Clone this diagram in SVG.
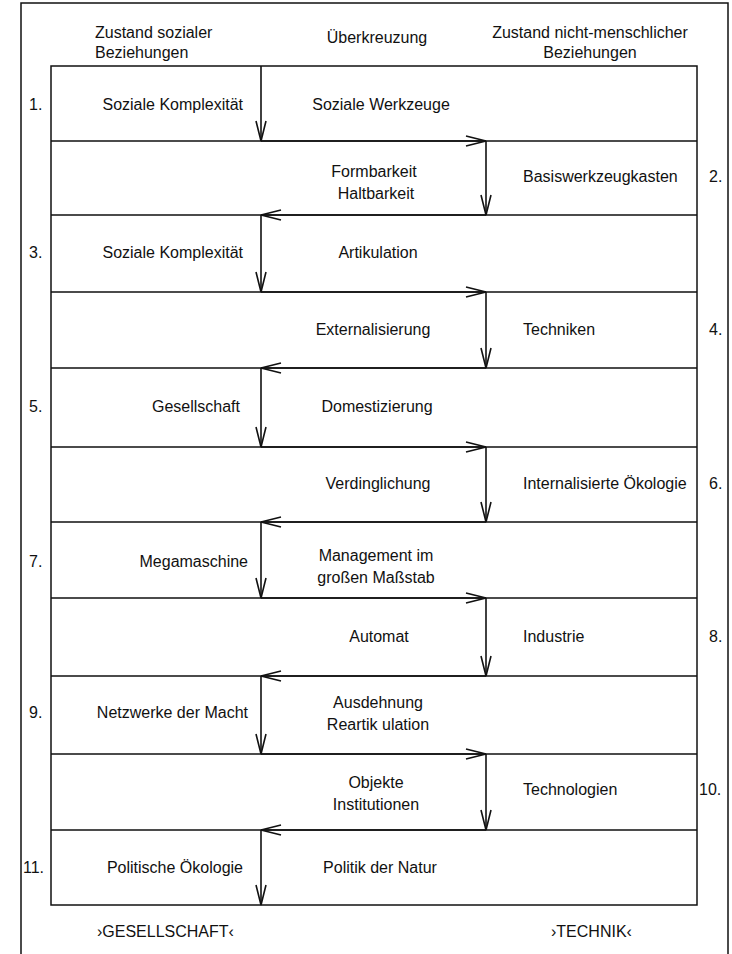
<svg xmlns="http://www.w3.org/2000/svg" width="732" height="954" viewBox="0 0 732 954">
<style>
text{font-family:"Liberation Sans",Arial,sans-serif;font-size:16px;fill:#111}
.m{text-anchor:middle}
.e{text-anchor:end}
.frame{fill:none;stroke:#111;stroke-width:1.5}
.row{stroke:#111;stroke-width:1.6}
.c{fill:none;stroke:#111;stroke-width:1.6;marker-end:url(#ah)}
</style>
<defs>
<marker id="ah" viewBox="0 0 22 12" refX="21" refY="6" markerWidth="22" markerHeight="12" markerUnits="userSpaceOnUse" orient="auto">
<path d="M1 1 L21 6 L1 11" fill="none" stroke="#111" stroke-width="1.6"/>
</marker>
</defs>
<rect width="732" height="954" fill="#fff"/>
<path class="frame" d="M21 954 V3 H728 V954"/>
<g id="grid">
<rect class="frame" x="51" y="66" width="646" height="839"/>
<path class="row" d="M51 141H697M51 215H697M51 292H697M51 368H697M51 447H697M51 522H697M51 598H697M51 676H697M51 754H697M51 830H697"/>
</g>
<g id="header">
<text x="95" y="38">Zustand sozialer</text>
<text x="95" y="58">Beziehungen</text>
<text class="m" x="377" y="43">Überkreuzung</text>
<text class="m" x="590" y="38">Zustand nicht-menschlicher</text>
<text class="m" x="590" y="58">Beziehungen</text>
</g>
<g id="row1">
<text x="29" y="110">1.</text>
<text class="e" x="243" y="110">Soziale Komplexität</text>
<text class="m" x="381" y="110">Soziale Werkzeuge</text>
</g>
<g id="row2">
<text class="m" x="374" y="177">Formbarkeit</text>
<text class="m" x="376" y="199">Haltbarkeit</text>
<text x="523" y="182">Basiswerkzeugkasten</text>
<text x="709" y="182">2.</text>
</g>
<g id="row3">
<text x="29" y="258">3.</text>
<text class="e" x="243" y="258">Soziale Komplexität</text>
<text class="m" x="378" y="258">Artikulation</text>
</g>
<g id="row4">
<text class="m" x="373" y="335">Externalisierung</text>
<text x="523" y="335">Techniken</text>
<text x="709" y="335">4.</text>
</g>
<g id="row5">
<text x="29" y="412">5.</text>
<text class="e" x="240" y="412">Gesellschaft</text>
<text class="m" x="377" y="412">Domestizierung</text>
</g>
<g id="row6">
<text class="m" x="378" y="489">Verdinglichung</text>
<text x="523" y="489">Internalisierte Ökologie</text>
<text x="709" y="489">6.</text>
</g>
<g id="row7">
<text x="29" y="567">7.</text>
<text class="e" x="248" y="567">Megamaschine</text>
<text class="m" x="376" y="561">Management im</text>
<text class="m" x="376" y="583">großen Maßstab</text>
</g>
<g id="row8">
<text class="m" x="379" y="642">Automat</text>
<text x="523" y="642">Industrie</text>
<text x="709" y="642">8.</text>
</g>
<g id="row9">
<text x="29" y="718">9.</text>
<text class="e" x="248" y="718">Netzwerke der Macht</text>
<text class="m" x="378" y="708">Ausdehnung</text>
<text class="m" x="378" y="730">Reartik ulation</text>
</g>
<g id="row10">
<text class="m" x="376" y="788">Objekte</text>
<text class="m" x="376" y="810">Institutionen</text>
<text x="523" y="795">Technologien</text>
<text x="699" y="795">10.</text>
</g>
<g id="row11">
<text x="23" y="873">11.</text>
<text class="e" x="243" y="873">Politische Ökologie</text>
<text class="m" x="380" y="873">Politik der Natur</text>
</g>
<g id="footer">
<text x="97" y="937">›GESELLSCHAFT‹</text>
<text x="551" y="937">›TECHNIK‹</text>
</g>
<g id="connectors">
<path class="c" d="M261 66V141"/>
<path class="c" d="M261 141H486"/>
<path class="c" d="M486 141V215"/>
<path class="c" d="M486 215H261"/>
<path class="c" d="M261 215V292"/>
<path class="c" d="M261 292H486"/>
<path class="c" d="M486 292V368"/>
<path class="c" d="M486 368H261"/>
<path class="c" d="M261 368V447"/>
<path class="c" d="M261 447H486"/>
<path class="c" d="M486 447V522"/>
<path class="c" d="M486 522H261"/>
<path class="c" d="M261 522V598"/>
<path class="c" d="M261 598H486"/>
<path class="c" d="M486 598V676"/>
<path class="c" d="M486 676H261"/>
<path class="c" d="M261 676V754"/>
<path class="c" d="M261 754H486"/>
<path class="c" d="M486 754V830"/>
<path class="c" d="M486 830H261"/>
<path class="c" d="M261 830V905"/>
</g>
</svg>
